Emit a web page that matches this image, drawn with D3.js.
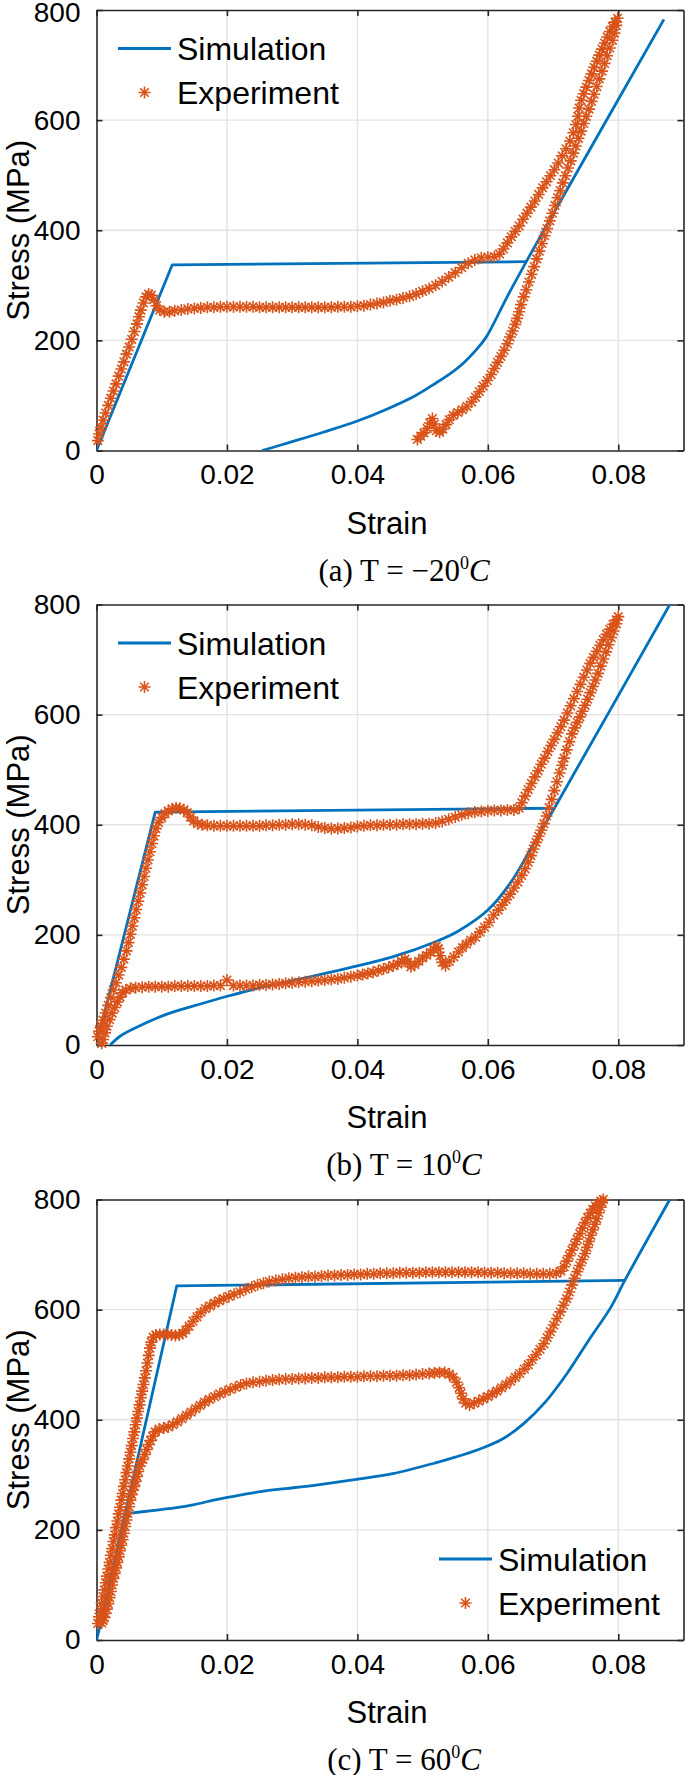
<!DOCTYPE html>
<html>
<head>
<meta charset="utf-8">
<script src="https://cdn.jsdelivr.net/npm/d3@7"></script>
<style>
body {margin:0; background:#fff;}
svg text {font-family:"Liberation Sans", Arial, Helvetica, sans-serif; fill:#000;}
svg text.caption {font-family:"Liberation Serif", "Times New Roman", serif;}
</style>
</head>
<body>
<svg id="fig" width="685" height="1775"></svg>
<script>
//Tick values shared by the three panels
var xTicks = [0, 0.02, 0.04, 0.06, 0.08];
var yTicks = [0, 200, 400, 600, 800];
var legendNames = ["Simulation", "Experiment"];
var captions = ["(a) T = \u221220", "(b) T = 10", "(c) T = 60"];

//Panel (a) T = -20 C : [strain, stress MPa]
var simALoad = [[0,0],[0.0116,337],[0.0659,343]];
var simAUnload = [[0.0870,783],[0.0686,400],[0.0659,343],[0.0630,280],[0.0597,205],[0.0580,180],[0.0562,158],
	[0.0545,142],[0.0521,123],[0.0488,99],[0.0445,75],[0.0401,54],[0.0350,34],[0.0300,16],[0.0254,0]];
var expA = [[0.0002,18],[0.0004,30],[0.0007,42],[0.0010,55],[0.0014,68],[0.0018,82],[0.0022,95],[0.0026,108],
	[0.0030,121],[0.0034,135],[0.0038,148],[0.0042,161],[0.0046,175],[0.0050,188],[0.0054,202],[0.0058,216],
	[0.0062,230],[0.0065,243],[0.0068,255],[0.0072,268],[0.0076,279],[0.0080,284],[0.0084,282],[0.0088,274],
	[0.0092,263],[0.0097,255],[0.0104,252],[0.0112,252],
	[0.0120,254],[0.0130,255],[0.0140,257],[0.0150,258],[0.0160,259],[0.0170,260],[0.0180,260],[0.0190,261],
	[0.0200,261],[0.0210,261],[0.0220,261],[0.0230,261],[0.0240,261],[0.0250,260],[0.0260,260],[0.0270,260],
	[0.0280,260],[0.0290,260],[0.0300,260],[0.0310,260],[0.0320,260],[0.0330,260],[0.0340,260],[0.0350,260],
	[0.0360,260],[0.0370,261],[0.0380,261],[0.0390,261],[0.0400,262],[0.0410,263],[0.0420,265],[0.0430,267],
	[0.0440,269],[0.0450,272],[0.0460,274],[0.0470,277],[0.0480,280],[0.0490,284],[0.0500,289],[0.0510,294],
	[0.0520,300],[0.0530,307],[0.0540,315],[0.0550,323],[0.0560,332],[0.0570,340],[0.0580,346],[0.0590,350],
	[0.0600,351],[0.0610,352],[0.0618,357],[0.0624,366],
	[0.0630,377],[0.0636,388],[0.0642,398],[0.0648,408],[0.0654,420],[0.0660,431],[0.0666,442],[0.0672,453],
	[0.0678,465],[0.0684,477],[0.0690,488],[0.0696,499],[0.0702,510],[0.0708,522],[0.0714,535],[0.0720,548],
	[0.0726,562],[0.0731,577],[0.0735,592],[0.0738,607],[0.0740,622],[0.0743,636],[0.0747,648],[0.0751,660],
	[0.0755,672],[0.0759,684],[0.0763,696],[0.0767,707],[0.0771,718],[0.0775,729],[0.0779,740],[0.0783,751],
	[0.0787,761],[0.0791,770],[0.0795,778],[0.0799,785],
	[0.0797,772],[0.0794,758],[0.0791,745],[0.0787,731],[0.0783,717],[0.0779,703],[0.0775,689],[0.0771,675],
	[0.0767,661],[0.0763,647],[0.0759,634],[0.0755,620],[0.0751,607],[0.0747,594],[0.0743,580],[0.0739,567],
	[0.0735,553],[0.0731,540],[0.0727,526],[0.0723,513],[0.0719,499],[0.0715,486],[0.0711,472],[0.0707,459],
	[0.0703,445],[0.0699,431],[0.0695,417],[0.0691,403],[0.0687,390],[0.0683,376],[0.0679,362],[0.0675,348],
	[0.0671,334],[0.0667,320],[0.0663,306],[0.0659,292],[0.0655,279],[0.0651,265],[0.0648,252],[0.0645,240],
	[0.0642,229],[0.0638,217],[0.0634,206],[0.0630,194],[0.0625,182],[0.0620,171],[0.0615,160],[0.0610,149],
	[0.0605,138],[0.0599,127],[0.0593,117],[0.0587,107],[0.0581,97],[0.0575,88],[0.0568,80],[0.0561,74],
	[0.0554,69],[0.0547,64],[0.0541,56],[0.0536,47],[0.0531,39],[0.0526,33],[0.0521,36],[0.0518,48],
	[0.0515,58],[0.0511,50],[0.0507,40],[0.0502,32],[0.0497,26],[0.0492,20]];

//Panel (b) T = 10 C
var simBLoad = [[0,0],[0.0090,423],[0.0702,430]];
var simBUnload = [[0.0879,800],[0.0702,430],[0.0670,365],[0.0635,295],[0.0600,245],[0.0555,207],[0.0521,188],
	[0.0454,160],[0.0387,140],[0.0320,122],[0.0254,105],[0.0202,89],[0.0158,74],[0.0108,56],[0.0056,29],
	[0.0035,15],[0.0021,0]];
var expB = [[0.0002,15],[0.0004,25],[0.0007,35],[0.0010,45],[0.0014,58],[0.0018,72],[0.0022,86],[0.0026,100],
	[0.0030,113],[0.0034,127],[0.0038,141],[0.0042,156],[0.0046,171],[0.0049,186],[0.0052,201],[0.0055,216],
	[0.0058,231],[0.0061,246],[0.0064,261],[0.0067,276],[0.0070,291],[0.0073,306],[0.0076,321],[0.0079,336],
	[0.0082,351],[0.0085,366],[0.0088,380],[0.0091,393],[0.0095,404],[0.0100,413],[0.0105,420],[0.0110,425],
	[0.0116,429],[0.0122,431],[0.0128,430],[0.0134,427],[0.0139,422],[0.0144,414],[0.0149,407],[0.0155,402],
	[0.0162,400],[0.0170,399],[0.0180,398],[0.0190,398],[0.0200,398],[0.0210,398],[0.0220,398],[0.0230,398],
	[0.0240,398],[0.0250,398],[0.0260,399],[0.0270,399],[0.0280,400],[0.0290,400],[0.0300,401],[0.0310,401],
	[0.0320,400],[0.0330,399],[0.0340,396],[0.0350,394],[0.0360,393],[0.0370,393],[0.0380,394],[0.0390,395],
	[0.0400,397],[0.0410,398],[0.0420,399],[0.0430,399],[0.0440,400],[0.0450,400],[0.0460,400],[0.0470,401],
	[0.0480,401],[0.0490,401],[0.0500,402],[0.0510,402],[0.0520,403],[0.0530,406],[0.0540,410],[0.0550,414],
	[0.0560,418],[0.0570,421],[0.0580,423],[0.0590,424],[0.0600,425],[0.0610,426],[0.0620,426],[0.0630,427],
	[0.0640,427],[0.0648,430],
	[0.0652,440],[0.0657,452],[0.0662,464],[0.0667,475],[0.0672,487],[0.0677,498],[0.0682,510],[0.0687,521],
	[0.0692,533],[0.0697,544],[0.0702,555],[0.0707,567],[0.0712,578],[0.0717,590],[0.0722,603],[0.0727,616],
	[0.0732,629],[0.0737,642],[0.0742,655],[0.0747,668],[0.0752,681],[0.0757,693],[0.0762,704],[0.0767,715],
	[0.0772,726],[0.0777,736],[0.0782,746],[0.0787,755],[0.0792,764],[0.0797,772],[0.0800,778],
	[0.0797,765],[0.0793,752],[0.0789,740],[0.0785,727],[0.0781,714],[0.0777,701],[0.0773,688],[0.0769,675],
	[0.0765,663],[0.0761,651],[0.0757,640],[0.0753,628],[0.0749,617],[0.0745,606],[0.0741,596],[0.0737,586],
	[0.0733,576],[0.0729,565],[0.0725,551],[0.0721,536],[0.0717,521],[0.0714,508],[0.0710,494],[0.0706,478],
	[0.0702,462],[0.0698,446],[0.0694,431],[0.0690,416],[0.0686,402],[0.0682,390],[0.0678,379],[0.0674,368],
	[0.0670,356],[0.0666,344],[0.0662,332],[0.0657,320],[0.0652,308],[0.0646,296],[0.0640,285],[0.0634,274],
	[0.0628,264],[0.0622,254],[0.0616,245],[0.0609,236],[0.0602,223],[0.0595,214],[0.0588,205],[0.0581,196],
	[0.0574,190],[0.0567,183],[0.0561,177],[0.0555,169],[0.0548,160],[0.0541,152],[0.0535,144],[0.0530,150],
	[0.0527,162],[0.0524,175],[0.0521,179],[0.0517,174],[0.0512,168],[0.0506,163],[0.0500,158],[0.0494,152],
	[0.0488,146],[0.0482,142],[0.0477,150],[0.0473,156],[0.0468,152],[0.0462,147],[0.0455,144],[0.0448,141],
	[0.0440,138],[0.0432,135],[0.0424,132],[0.0416,130],[0.0408,128],[0.0400,126],[0.0390,124],[0.0380,122],
	[0.0370,120],[0.0360,119],[0.0350,118],[0.0340,117],[0.0330,116],[0.0320,115],[0.0310,114],[0.0300,113],
	[0.0290,112],[0.0280,111],[0.0270,110],[0.0260,109],[0.0250,109],[0.0240,108],[0.0230,108],[0.0220,108],
	[0.0210,108],[0.0200,118],[0.0190,108],[0.0180,108],[0.0170,107],[0.0160,107],[0.0150,107],[0.0140,107],
	[0.0130,107],[0.0120,107],[0.0110,106],[0.0100,106],[0.0090,106],[0.0080,106],[0.0070,105],[0.0060,104],
	[0.0052,103],[0.0045,100],[0.0040,95],[0.0036,87],[0.0032,78],[0.0028,68],[0.0024,58],[0.0020,46],
	[0.0016,34],[0.0013,22],[0.0010,10],[0.0008,3]];

//Panel (c) T = 60 C (the load path closes back to the origin from the end of the unloading curve)
var simCLoad = [[0.0049,230],[0,0],[0.0123,643],[0.0810,653]];
var simCUnload = [[0.0879,800],[0.0810,653],[0.0789,605],[0.0755,545],[0.0722,485],[0.0688,432],[0.0655,393],
	[0.0621,364],[0.0588,347],[0.0550,332],[0.0521,322],[0.0454,302],[0.0401,292],[0.0334,281],[0.0290,275],
	[0.0254,270],[0.0220,263],[0.0187,256],[0.0150,246],[0.0120,240],[0.0085,235],[0.0049,230]];
var expC = [[0.0002,30],[0.0004,42],[0.0006,54],[0.0008,67],[0.0010,79],[0.0012,91],[0.0014,104],[0.0016,116],
	[0.0018,129],[0.0020,141],[0.0022,154],[0.0024,166],[0.0026,179],[0.0028,191],[0.0030,204],[0.0032,216],
	[0.0034,229],[0.0036,241],[0.0038,254],[0.0040,266],[0.0042,279],[0.0044,291],[0.0046,304],[0.0048,316],
	[0.0050,329],[0.0052,341],[0.0054,353],[0.0056,366],[0.0058,378],[0.0060,391],[0.0062,403],[0.0064,415],
	[0.0066,427],[0.0068,440],[0.0070,452],[0.0072,464],[0.0074,476],[0.0076,489],[0.0078,503],[0.0080,517],
	[0.0082,530],[0.0084,541],[0.0087,550],[0.0091,554],[0.0097,555],[0.0103,555],[0.0109,555],[0.0115,554],
	[0.0121,553],[0.0127,554],[0.0132,557],[0.0137,563],[0.0142,570],[0.0148,579],[0.0154,587],[0.0160,595],
	[0.0167,602],[0.0174,607],[0.0181,612],[0.0188,616],[0.0195,620],[0.0203,624],[0.0211,628],[0.0220,632],
	[0.0229,637],[0.0238,641],[0.0247,645],[0.0256,648],[0.0265,651],[0.0275,653],[0.0285,655],[0.0295,657],
	[0.0305,658],[0.0315,659],[0.0325,660],[0.0335,660],[0.0345,661],[0.0355,662],[0.0365,662],[0.0375,663],
	[0.0385,663],[0.0395,664],[0.0405,664],[0.0415,665],[0.0425,665],[0.0435,666],[0.0445,666],[0.0455,666],
	[0.0465,667],[0.0475,667],[0.0485,667],[0.0495,667],[0.0505,668],[0.0515,668],[0.0525,668],[0.0535,668],
	[0.0545,668],[0.0555,668],[0.0565,668],[0.0575,668],[0.0585,668],[0.0595,667],[0.0605,667],[0.0615,667],
	[0.0625,666],[0.0635,666],[0.0645,666],[0.0655,666],[0.0665,665],[0.0675,665],[0.0685,665],[0.0695,665],
	[0.0705,666],[0.0712,670],[0.0717,678],[0.0721,688],[0.0725,698],[0.0729,708],[0.0733,718],[0.0737,728],
	[0.0741,738],[0.0745,748],[0.0749,758],[0.0753,767],[0.0757,775],[0.0761,782],[0.0765,788],[0.0769,793],
	[0.0773,797],[0.0777,800],
	[0.0775,795],[0.0773,786],[0.0770,776],[0.0767,765],[0.0764,755],[0.0761,745],[0.0758,735],[0.0755,724],
	[0.0752,713],[0.0749,702],[0.0745,691],[0.0741,680],[0.0737,669],[0.0733,657],[0.0729,645],[0.0725,632],
	[0.0721,620],[0.0716,608],[0.0711,596],[0.0706,584],[0.0701,572],[0.0696,560],[0.0691,549],[0.0686,538],
	[0.0680,528],[0.0674,518],[0.0668,509],[0.0662,500],[0.0656,492],[0.0649,484],[0.0642,477],[0.0635,470],
	[0.0628,464],[0.0621,458],[0.0614,452],[0.0607,447],[0.0600,442],[0.0593,438],[0.0586,434],[0.0579,430],
	[0.0572,427],[0.0566,430],[0.0562,438],[0.0559,448],[0.0556,458],[0.0552,468],[0.0547,477],[0.0541,483],
	[0.0534,486],[0.0526,486],[0.0518,485],[0.0510,484],[0.0500,483],[0.0490,482],[0.0480,481],[0.0470,481],
	[0.0460,480],[0.0450,480],[0.0440,480],[0.0430,479],[0.0420,479],[0.0410,479],[0.0400,478],[0.0390,478],
	[0.0380,478],[0.0370,477],[0.0360,477],[0.0350,477],[0.0340,476],[0.0330,476],[0.0320,475],[0.0310,475],
	[0.0300,474],[0.0290,474],[0.0280,473],[0.0270,472],[0.0260,471],[0.0250,469],[0.0240,468],[0.0230,466],
	[0.0221,463],[0.0213,459],[0.0205,455],[0.0197,451],[0.0189,447],[0.0181,442],[0.0173,437],[0.0166,432],
	[0.0159,426],[0.0152,420],[0.0145,414],[0.0138,408],[0.0131,402],[0.0124,396],[0.0117,391],[0.0110,387],
	[0.0103,385],[0.0096,383],[0.0090,378],[0.0086,370],[0.0083,362],[0.0080,355],[0.0077,346],[0.0074,337],
	[0.0071,328],[0.0068,322],[0.0066,316],[0.0064,306],[0.0062,297],[0.0060,288],[0.0058,279],[0.0056,272],
	[0.0054,264],[0.0052,254],[0.0050,242],[0.0048,230],[0.0046,218],[0.0044,206],[0.0042,194],[0.0040,182],
	[0.0038,172],[0.0036,162],[0.0034,151],[0.0032,141],[0.0030,131],[0.0028,121],[0.0026,112],[0.0024,100],
	[0.0022,88],[0.0020,77],[0.0018,66],[0.0016,56],[0.0014,48],[0.0012,41],[0.0010,35],[0.0008,31]];

//Colours (MATLAB defaults)
var BLUE = "#0072BD", ORANGE = "#D95319", AXIS = "#262626", GRID = "#e3e3e3";

//Sizing
var margin = {left: 96.5};
var plotW = 587, plotH = 440.5;
var panelTops = [10, 604.5, 1199.5];

var svg = d3.select("#fig");

//8 armed asterisk like the MATLAB '*' marker
var STAR = "M-6,0H6M0,-6V6M-4.3,-4.3L4.3,4.3M-4.3,4.3L4.3,-4.3";
var STAR_W = 1.6;

var panels = [
	{load: simALoad, unload: simAUnload, exp: expA, legend: "nw"},
	{load: simBLoad, unload: simBUnload, exp: expB, legend: "nw"},
	{load: simCLoad, unload: simCUnload, exp: expC, legend: "se"}
];

var x = d3.scaleLinear().domain([0, 0.09]).range([0, plotW]);
var y = d3.scaleLinear().domain([0, 800]).range([plotH, 0]);

var straight = d3.line().x(function(d){return x(d[0]);}).y(function(d){return y(d[1]);});
var smooth = d3.line().curve(d3.curveCatmullRom.alpha(0.5))
	.x(function(d){return x(d[0]);}).y(function(d){return y(d[1]);});

panels.forEach(function(p, i) {
	var g = svg.append("g")
		.attr("transform", "translate(" + margin.left + "," + panelTops[i] + ")");

	//clip for the simulation line
	g.append("clipPath").attr("id", "clip" + i)
		.append("rect").attr("width", plotW).attr("height", plotH);

	//Grid
	g.append("g").selectAll("line")
		.data(xTicks.slice(1)).enter().append("line")
		.attr("x1", function(d){return x(d);}).attr("x2", function(d){return x(d);})
		.attr("y1", 0).attr("y2", plotH)
		.attr("stroke", GRID).attr("stroke-width", 1.4);
	g.append("g").selectAll("line")
		.data(yTicks.slice(1, -1)).enter().append("line")
		.attr("y1", function(d){return y(d);}).attr("y2", function(d){return y(d);})
		.attr("x1", 0).attr("x2", plotW)
		.attr("stroke", GRID).attr("stroke-width", 1.4);

	//Axes (ticks inward on all four sides)
	var fmtX = function(d){return d === 0 ? "0" : d3.format(".2f")(d);};
	var bottom = g.append("g").attr("transform", "translate(0," + plotH + ")")
		.call(d3.axisBottom(x).tickValues(xTicks).tickFormat(fmtX).tickSizeInner(-6).tickSizeOuter(0).tickPadding(14));
	var left = g.append("g")
		.call(d3.axisLeft(y).tickValues(yTicks).tickSizeInner(-6).tickSizeOuter(0).tickPadding(16));
	var top = g.append("g")
		.call(d3.axisTop(x).tickValues(xTicks).tickFormat("").tickSizeInner(-6).tickSizeOuter(0));
	var right = g.append("g").attr("transform", "translate(" + plotW + ",0)")
		.call(d3.axisRight(y).tickValues(yTicks).tickFormat("").tickSizeInner(-6).tickSizeOuter(0));
	[bottom, left, top, right].forEach(function(a) {
		a.select(".domain").attr("stroke", AXIS).attr("stroke-width", 1.6);
		a.selectAll(".tick line").attr("stroke", AXIS).attr("stroke-width", 1.6);
		a.selectAll(".tick text").attr("font-size", 28)
			.attr("font-family", '"Liberation Sans", Arial, sans-serif').attr("fill", "#000");
	});
	bottom.selectAll(".tick text").attr("dy", "0.71em");
	//keep the top label of the first panel inside the page
	if (i === 0)
		left.selectAll(".tick text").filter(function(d){return d === 800;}).attr("dy", "0.42em");

	//Simulation line: loading part straight, unloading part smooth
	[[p.load, straight], [p.unload, smooth]].forEach(function(s) {
		g.append("path")
			.datum(s[0])
			.attr("clip-path", "url(#clip" + i + ")")
			.attr("fill", "none")
			.attr("stroke", BLUE)
			.attr("stroke-width", 2.8)
			.attr("stroke-linejoin", "round")
			.attr("d", s[1]);
	});

	//Experiment markers
	g.append("g").selectAll("path")
		.data(p.exp).enter().append("path")
		.attr("transform", function(d){return "translate(" + x(d[0]) + "," + y(d[1]) + ")";})
		.attr("d", STAR)
		.attr("fill", "none")
		.attr("stroke", ORANGE)
		.attr("stroke-width", STAR_W);

	//Axis labels
	g.append("text")
		.attr("x", plotW / 2 - 3).attr("y", plotH + 83)
		.attr("text-anchor", "middle").attr("font-size", 31)
		.text("Strain");
	g.append("text")
		.attr("transform", "translate(" + (29 - margin.left) + "," + (plotH / 2) + ") rotate(-90)")
		.attr("text-anchor", "middle").attr("font-size", 31)
		.text("Stress (MPa)");

	//Legend (no box)
	var lx, ly;
	if (p.legend === "nw") { lx = 21.5; ly = 38.5; }
	else { lx = 342.5; ly = plotH - 81; }
	var lg = g.append("g").attr("transform", "translate(" + lx + "," + ly + ")");
	lg.append("line").attr("x1", 0).attr("x2", 53).attr("y1", 0).attr("y2", 0)
		.attr("stroke", BLUE).attr("stroke-width", 2.8);
	lg.append("path").attr("transform", "translate(26.5,44)").attr("d", STAR)
		.attr("fill", "none").attr("stroke", ORANGE).attr("stroke-width", STAR_W);
	lg.selectAll("text").data(legendNames).enter().append("text")
		.attr("x", 59).attr("y", function(d, k){return k * 44 + 11.5;})
		.attr("font-size", 32)
		.text(function(d){return d;});

	//Caption below the panel
	var cap = g.append("text").attr("class", "caption")
		.attr("x", 404 - margin.left).attr("y", plotH + 130)
		.attr("text-anchor", "middle").attr("font-size", 31);
	cap.append("tspan").text(captions[i]);
	cap.append("tspan").attr("font-size", 18).attr("dy", -12).text("0");
	cap.append("tspan").attr("font-style", "italic").attr("dy", 12).text("C");
});
</script>
</body>
</html>
